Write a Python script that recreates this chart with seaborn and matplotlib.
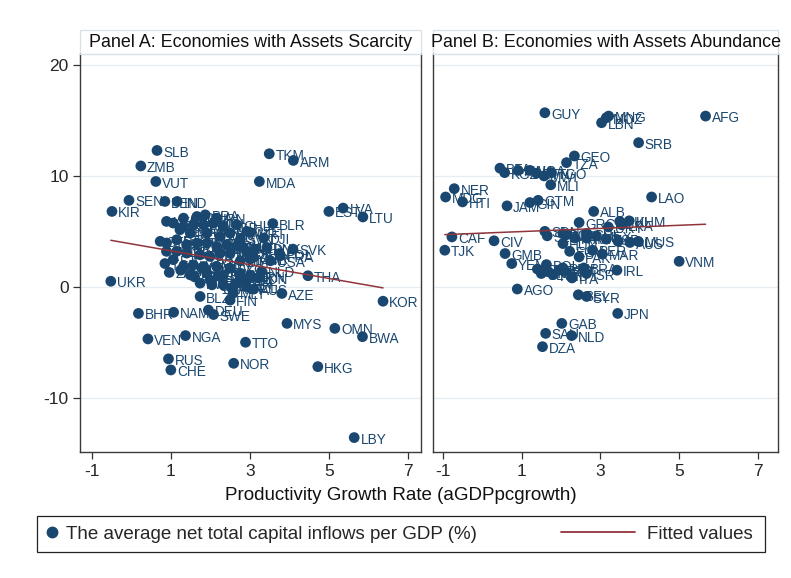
import pandas as pd
import seaborn as sns
import matplotlib.pyplot as plt
from matplotlib.patches import Rectangle
from matplotlib.lines import Line2D

# Panel A: economies with assets scarcity
a_code = ['SLB', 'ZMB', 'VUT', 'SEN', 'BEN', 'IND', 'KIR', 'TKM', 'ARM', 'MDA',
          'LVA', 'EST', 'LTU', 'BLR', 'SVK', 'POL', 'THA', 'AZE', 'KOR', 'BHR',
          'NAM', 'DEU', 'SWE', 'VEN', 'NGA', 'TTO', 'MYS', 'OMN', 'BWA', 'RUS',
          'CHE', 'NOR', 'HKG', 'LBY', 'UKR', 'FIN', 'AUT', 'TCD', 'ZAF', 'IDN',
          'CMR', 'GHA', 'BRA', 'IRN', 'KEN', 'BGD', 'GNQ', 'CRI', 'PHL', 'COL',
          'SGP', 'CHL', 'CZE', 'PER', 'MEX', 'URY', 'ARG', 'HRV', 'SVN', 'STP',
          'ZWE', 'ETH', 'NPL', 'MMR', 'CHN', 'BGR', 'ROU', 'SWZ', 'LSO', 'TUN',
          'JOR', 'EGY', 'TUR', 'KAZ', 'UZB', 'MKD', 'BIH', 'MNE', 'FJI', 'PNG',
          'WSM', 'TON', 'CPV', 'SYC', 'BDI', 'COD', 'COG', 'SLE', 'LBR', 'MRT',
          'DJI', 'ISL', 'LUX', 'DNK', 'FRA', 'GBR', 'USA', 'CAN', 'NZL', 'MLT',
          'CYP', 'KWT', 'QAT', 'ARE', 'BRN', 'BLZ',
          'ESP', 'PRT', 'ITA', 'BEL', 'NLD', 'AUS', 'ISR']
a_growth = [0.65, 0.24, 0.62, -0.06, 0.85, 1.16, -0.49, 3.49, 4.10, 3.24,
            5.36, 5.00, 5.86, 3.58, 4.09, 3.75, 4.47, 3.81, 6.37, 0.18,
            1.07, 1.95, 2.08, 0.42, 1.37, 2.89, 3.94, 5.15, 5.85, 0.94,
            1.00, 2.59, 4.72, 5.64, -0.52, 2.50, 2.54, 0.85, 0.96, 3.22,
            1.32, 1.66, 1.87, 2.16, 0.89, 1.06, 1.32, 1.57, 1.83, 2.08,
            2.33, 2.67, 2.92, 1.23, 1.49, 1.91, 2.25, 2.50, 2.76, 0.73,
            0.89, 1.15, 1.40, 1.66, 1.91, 2.16, 2.42, 2.67, 2.92, 0.89,
            1.15, 1.40, 1.74, 1.99, 2.25, 2.50, 2.76, 3.01, 1.06, 1.32,
            1.57, 1.83, 2.16, 2.50, 2.76, 1.49, 1.91, 2.33, 2.76, 3.01,
            3.35, 2.84, 3.13, 3.43, 3.77, 3.09, 3.52, 2.67, 2.92, 2.58,
            1.78, 1.74, 2.04, 2.33, 3.01, 1.74,
            1.60, 2.00, 2.20, 2.90, 3.30, 3.10, 1.25]
a_inflow = [12.3, 10.9, 9.5, 7.8, 7.7, 7.7, 6.8, 12.0, 11.4, 9.5,
            7.1, 6.8, 6.3, 5.7, 3.4, 3.0, 1.0, -0.6, -1.3, -2.4,
            -2.3, -2.1, -2.5, -4.7, -4.4, -5.0, -3.3, -3.75, -4.5, -6.5,
            -7.5, -6.9, -7.2, -13.6, 0.5, -1.2, -0.1, 2.1, 1.3, 0.8,
            6.19, 6.34, 6.49, 6.19, 5.9, 5.75, 5.44, 5.59, 5.59, 5.74,
            5.44, 5.59, 5.0, 5.15, 4.84, 4.84, 4.54, 4.84, 4.3, 4.1,
            3.95, 4.25, 3.79, 3.94, 3.94, 3.64, 3.79, 3.64, 3.1, 3.2,
            3.2, 3.04, 2.89, 2.74, 3.04, 3.04, 2.35, 2.5, 2.45, 1.83,
            1.98, 1.83, 1.83, 1.68, 1.15, 1.08, 1.23, 1.08, 0.85, 4.9,
            4.4, 3.55, 3.4, 3.55, 2.8, 2.65, 2.35, 0.33, 0.0, -0.57,
            1.68, 0.33, 0.18, 0.18, 1.0, -0.87,
            0.9, 0.6, 1.0, 0.6, 1.4, -0.2, 1.5]

# Panel B: economies with assets abundance
b_code = ['GUY', 'MNG', 'MOZ', 'LBN', 'AFG', 'SRB', 'GEO', 'TZA', 'BFA', 'KGZ',
          'RWA', 'UGA', 'BTN', 'MWI', 'TGO', 'MLI', 'NER', 'MDG', 'HTI', 'JAM',
          'GIN', 'GTM', 'LAO', 'ALB', 'GRC', 'KHM', 'LKA', 'CAF', 'CIV', 'TJK',
          'GMB', 'YEM', 'VNM', 'IRL', 'MAR', 'PAK', 'HUN', 'AGO', 'BEL', 'SYR',
          'JPN', 'GAB', 'SAU', 'NLD', 'DZA', 'ITA', 'ISR', 'BRA', 'BOL', 'TUR',
          'PRY', 'PRT', 'SDN', 'SLE', 'NIC', 'CHL', 'DOM', 'ARG', 'ESP', 'AUS',
          'MUS', 'COL', 'EGY', 'PER', 'PHL',
          'SLV', 'HND', 'ECU', 'PAN', 'MEX', 'URY', 'IRQ']
b_growth = [1.59, 3.21, 3.15, 3.03, 5.67, 3.97, 2.34, 2.14, 0.45, 0.57,
            0.91, 1.21, 1.38, 1.57, 1.76, 1.74, -0.71, -0.93, -0.50, 0.63,
            1.21, 1.42, 4.30, 2.83, 2.46, 3.73, 3.54, -0.77, 0.30, -0.95,
            0.58, 0.75, 5.00, 3.42, 3.05, 2.46, 2.05, 0.89, 2.44, 2.65,
            3.44, 2.02, 1.61, 2.27, 1.53, 2.28, 2.65, 2.58, 1.63, 1.68,
            2.05, 2.10, 1.59, 1.65, 2.14, 2.65, 2.05, 2.65, 3.15, 3.75,
            3.96, 3.45, 2.22, 2.80, 3.49,
            1.50, 1.80, 1.95, 2.35, 2.90, 3.20, 1.40]
b_inflow = [15.7, 15.4, 15.25, 14.8, 15.4, 13.0, 11.8, 11.2, 10.7, 10.3,
            10.5, 10.5, 10.25, 10.0, 10.3, 9.2, 8.85, 8.1, 7.66, 7.3,
            7.6, 7.8, 8.1, 6.8, 5.8, 5.95, 5.6, 4.5, 4.15, 3.3,
            3.0, 2.1, 2.3, 1.5, 2.95, 2.7, 3.9, -0.2, -0.72, -0.87,
            -2.4, -3.3, -4.2, -4.4, -5.4, 0.8, 1.2, 1.7, 2.0, 1.35,
            1.7, 1.4, 5.0, 4.6, 4.7, 4.8, 4.8, 4.4, 4.3, 4.0,
            4.1, 4.1, 3.2, 3.3, 5.9,
            1.2, 1.1, 1.5, 4.4, 4.6, 5.4, 1.6]

panel_titles = ['Panel A: Economies with Assets Scarcity',
                'Panel B: Economies with Assets Abundance']

NAVY = '#1A476F'
MAROON = '#90353B'

sns.set_style('white')
plt.rcParams['font.family'] = ['Liberation Sans', 'DejaVu Sans']
plt.rcParams['axes.unicode_minus'] = False

dfA = pd.DataFrame({'code': a_code, 'growth': a_growth, 'inflow': a_inflow})
dfB = pd.DataFrame({'code': b_code, 'growth': b_growth, 'inflow': b_inflow})

fig = plt.figure(figsize=(7.91, 5.78), dpi=100)
axA = fig.add_axes([0.1011, 0.218, 0.4311, 0.6886])
axB = fig.add_axes([0.5474, 0.218, 0.4362, 0.6886])

for ax, df, title, xlim in [(axA, dfA, panel_titles[0], (-1.30, 7.33)),
                            (axB, dfB, panel_titles[1], (-1.25, 7.51))]:
    sns.scatterplot(data=df, x='growth', y='inflow', color=NAVY, s=60,
                    edgecolor='none', ax=ax, legend=False, zorder=3)
    for c, x, y in zip(df['code'], df['growth'], df['inflow']):
        ax.annotate(c, (x, y), xytext=(4.5, -1.5), textcoords='offset points',
                    va='center', ha='left', fontsize=9.8, color=NAVY, zorder=3)
    sns.regplot(data=df, x='growth', y='inflow', scatter=False, ci=None,
                truncate=True, ax=ax, line_kws={'color': MAROON, 'lw': 1.1, 'zorder': 4})
    ax.set_xlim(*xlim)
    ax.set_ylim(-14.9, 21)
    ax.set_xticks([-1, 1, 3, 5, 7])
    ax.set_yticks([-10, 0, 10, 20])
    ax.set_xlabel('')
    ax.set_ylabel('')
    ax.yaxis.grid(True, color='#E6EDF1', lw=0.9)
    ax.set_axisbelow(True)
    for s in ['left', 'right', 'bottom']:
        ax.spines[s].set_color('#3a3a3a')
        ax.spines[s].set_linewidth(1.0)
    ax.spines['top'].set_color('#D5E0E8')
    ax.tick_params(axis='x', bottom=True, length=5, width=0.9, color='#333333',
                   labelsize=12.5, pad=4)
    # title strip
    ax.add_patch(Rectangle((0, 1.0), 1, 0.0603, transform=ax.transAxes,
                           facecolor='white', edgecolor='#D5E0E8', lw=0.9,
                           clip_on=False))
    ax.text(0.5, 1.030, title, transform=ax.transAxes, ha='center', va='center',
            fontsize=12.9, color='#111111')

axA.tick_params(axis='y', left=True, length=5, width=0.9, color='#333333',
                labelsize=12.5, pad=3)
axB.tick_params(axis='y', left=False, labelleft=False)

fig.text(401 / 791, 1 - 496 / 578, 'Productivity Growth Rate (aGDPpcgrowth)',
         ha='center', va='center', fontsize=13.5, color='#111111')

h_dot = Line2D([], [], ls='none', marker='o', color=NAVY, markersize=7.5)
h_fit = Line2D([], [], color=MAROON, lw=1.3)
leg1 = fig.legend([h_dot], ['The average net total capital inflows per GDP (%)'],
                  loc='lower left', bbox_to_anchor=(37 / 791, 26 / 578, 728 / 791, 37 / 578),
                  mode='expand', borderaxespad=0, fontsize=13.5, handlelength=0.55,
                  handletextpad=0.5, borderpad=0.5, frameon=True, fancybox=False,
                  edgecolor='#222222', framealpha=1)
leg1.get_frame().set_linewidth(0.9)
fig.legend([h_fit], ['Fitted values'], loc='center right',
           bbox_to_anchor=(760 / 791, 1 - 534 / 578), borderaxespad=0,
           fontsize=13.5, handlelength=3.9, handletextpad=0.65, frameon=False)

fig.savefig('out.png', dpi=100)
